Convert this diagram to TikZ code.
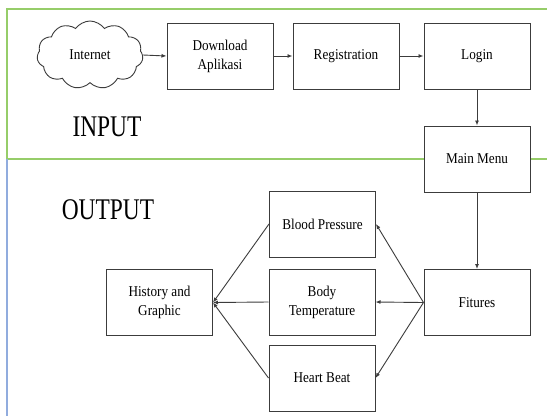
\documentclass[tikz,border=0pt]{standalone}
\usepackage{fontspec}
\setmainfont{Liberation Serif}[FakeStretch=0.88]
\newfontfamily\headfont{Liberation Serif}[FakeStretch=0.78]
\usetikzlibrary{shapes.symbols,arrows.meta}
\definecolor{framegreen}{RGB}{150,205,105}
\definecolor{frameblue}{RGB}{145,172,222}
\definecolor{boxline}{RGB}{60,60,60}
\tikzset{
  stepbox/.style={draw=boxline, line width=1pt, fill=white, align=center,
    inner sep=0pt, minimum width=106pt, minimum height=66pt,
    font=\fontsize{15}{19}\selectfont},
  flow/.style={draw=boxline, line width=0.9pt,
    -{Latex[length=5pt,width=4pt]}},
  phase/.style={font=\headfont\fontsize{30}{32}\selectfont, inner sep=0pt}
}
\begin{document}
\begin{tikzpicture}[x=1pt,y=-1pt]
\useasboundingbox (0,0) rectangle (547,416);
\fill[white] (0,0) rectangle (547,416);
% frame of the two phases
\draw[framegreen, line width=1.3pt] (547,9) -- (7,9) -- (7,159) -- (547,159);
\draw[frameblue, line width=1.3pt] (7,159) -- (7,416);
% phase labels
\node[phase] (inlbl) at (107,127) {INPUT};
\node[phase] (outlbl) at (108,210) {OUTPUT};
% input chain
\node[cloud, cloud puffs=11, cloud puff arc=110, aspect=1.6, draw=boxline,
  line width=0.9pt, fill=white, inner sep=0pt, minimum width=106pt,
  minimum height=68pt, font=\fontsize{15}{19}\selectfont] (net) at (90,55) {Internet};
\node[stepbox] (dl) at (220,56) {Download\\Aplikasi};
\node[stepbox] (reg) at (346,56) {Registration};
\node[stepbox] (login) at (477,56) {Login};
\node[stepbox] (menu) at (477,159) {Main Menu};
% output part
\node[stepbox] (fit) at (477,302.5) {Fitures};
\node[stepbox] (bp) at (322.5,224) {Blood Pressure};
\node[stepbox] (bt) at (322,302) {Body\\Temperature};
\node[stepbox] (hb) at (322,378) {Heart Beat};
\node[stepbox] (hist) at (159.5,302.5) {History and\\Graphic};
% connectors
\draw[flow] (net.east) -- (dl.west);
\draw[flow] (dl) -- (reg);
\draw[flow] (reg) -- (login);
\draw[flow] (login) -- (menu);
\draw[flow] (menu) -- (fit);
\draw[flow] (fit.west) -- (bp.east);
\draw[flow] (fit.west) -- (bt.east);
\draw[flow] (fit.west) -- (hb.east);
\draw[flow] (bp.west) -- (hist.east);
\draw[flow] (bt.west) -- (hist.east);
\draw[flow] (hb.west) -- (hist.east);
\end{tikzpicture}
\end{document}
